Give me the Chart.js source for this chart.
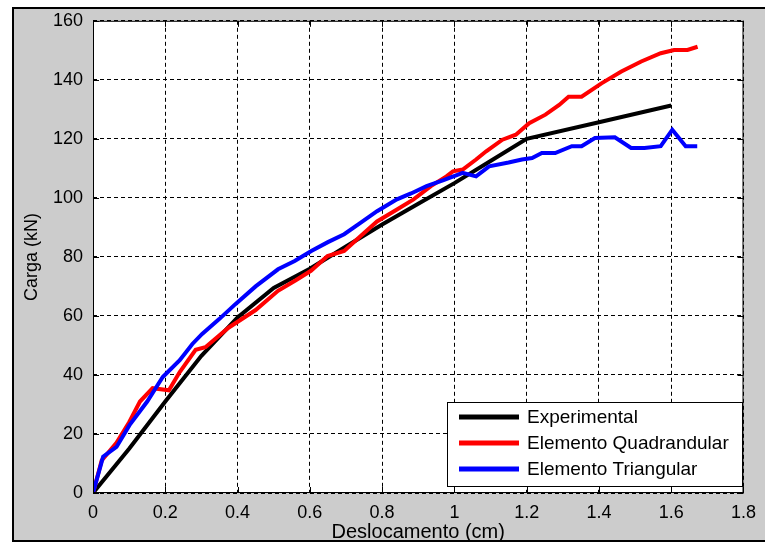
<!DOCTYPE html>
<html>
<head>
<meta charset="utf-8">
<script src="https://cdn.jsdelivr.net/npm/chart.js@4.4.1/dist/chart.umd.min.js"></script>
<style>
  html, body { margin: 0; padding: 0; background: #fff; }
  #wrap { width: 765px; height: 544px; }
</style>
</head>
<body>
<div id="wrap"><canvas id="cargaChart"></canvas></div>
<script>
// load vs displacement curves
const seriesNames = ['Experimental', 'Elemento Quadrandular', 'Elemento Triangular'];
const seriesColors = ['#000000', '#ff0000', '#0000ff'];

const expX = [0, 0.1, 0.2, 0.3, 0.4, 0.5, 0.6, 0.7, 0.8, 0.9, 1.0, 1.1, 1.2, 1.4, 1.6];
const expY = [0, 15, 31, 46.5, 59.5, 69.5, 76, 83.5, 91, 98, 105, 112.5, 120, 125.6, 131.3];

const quadX = [0, 0.024, 0.065, 0.1, 0.13, 0.165, 0.21, 0.24, 0.284, 0.311, 0.375, 0.45, 0.512, 0.56,
  0.603, 0.649, 0.695, 0.74, 0.786, 0.84, 0.887, 0.935, 0.978, 0.996, 1.023, 1.06, 1.088, 1.133,
  1.17, 1.207, 1.252, 1.29, 1.316, 1.352, 1.407, 1.462, 1.517, 1.571, 1.608, 1.645, 1.673];
const quadY = [0, 11, 17, 24, 31, 35.5, 34.8, 41, 48.5, 49.4, 56, 62, 68.5, 72,
  75.3, 80.3, 82, 87, 92, 96, 99.5, 104, 107.3, 109, 109.6, 113, 115.8, 119.7,
  121.4, 125.3, 128.2, 131.5, 134.3, 134.3, 138.8, 142.8, 146.2, 149, 150.1, 150.1, 151.2];

const triX = [0, 0.028, 0.065, 0.101, 0.15, 0.193, 0.24, 0.275, 0.302, 0.35, 0.394, 0.45, 0.512, 0.558,
  0.604, 0.65, 0.695, 0.74, 0.786, 0.841, 0.88, 0.923, 0.97, 1.023, 1.06, 1.096, 1.15, 1.187,
  1.215, 1.242, 1.279, 1.325, 1.352, 1.389, 1.444, 1.489, 1.526, 1.571, 1.603, 1.64, 1.672];
const triY = [0, 12.3, 15.6, 23, 31, 39.3, 45, 50.5, 53.9, 59, 64, 70, 75.8, 78.6,
  82, 85, 87.7, 91.5, 95.5, 99.5, 101.5, 104, 106, 108.5, 107.3, 110.7, 112, 113,
  113.5, 115.2, 115.2, 117.5, 117.5, 120.3, 120.5, 116.9, 116.9, 117.5, 123.1, 117.5, 117.5];

const xTicks = [0, 0.2, 0.4, 0.6, 0.8, 1, 1.2, 1.4, 1.6, 1.8];
const yTicks = [0, 20, 40, 60, 80, 100, 120, 140, 160];

const toPoints = (xs, ys) => xs.map((x, i) => ({ x: x, y: ys[i] }));

const font = 'Arial, "Liberation Sans", sans-serif';

// gray figure panel, white axes, box, inward ticks and legend
const matlabFrame = {
  id: 'matlabFrame',
  beforeDraw(chart) {
    const { ctx, chartArea: a } = chart;
    ctx.save();
    ctx.fillStyle = '#ffffff';
    ctx.fillRect(0, 0, chart.width, chart.height);
    ctx.fillStyle = '#cccccc';
    ctx.fillRect(13, 8, chart.width - 13, 533);
    ctx.strokeStyle = '#000';
    ctx.lineWidth = 2;
    ctx.beginPath();
    ctx.moveTo(chart.width + 2, 8);
    ctx.lineTo(13, 8);
    ctx.lineTo(13, 541);
    ctx.lineTo(chart.width + 2, 541);
    ctx.stroke();
    ctx.fillStyle = '#ffffff';
    ctx.fillRect(a.left, a.top, a.right - a.left, a.bottom - a.top);
    ctx.restore();
  },
  afterDraw(chart) {
    const { ctx, chartArea: a, scales } = chart;
    ctx.save();
    ctx.strokeStyle = '#000';
    ctx.lineWidth = 1;
    ctx.setLineDash([]);
    ctx.strokeRect(a.left + 0.5, a.top + 0.5, a.right - a.left - 1, a.bottom - a.top - 1);
    ctx.beginPath();
    xTicks.forEach(v => {
      const px = Math.round(scales.x.getPixelForValue(v)) + 0.5;
      ctx.moveTo(px, a.bottom); ctx.lineTo(px, a.bottom - 6);
      ctx.moveTo(px, a.top); ctx.lineTo(px, a.top + 6);
    });
    yTicks.forEach(v => {
      const py = Math.round(scales.y.getPixelForValue(v)) + 0.5;
      ctx.moveTo(a.left, py); ctx.lineTo(a.left + 6, py);
      ctx.moveTo(a.right, py); ctx.lineTo(a.right - 6, py);
    });
    ctx.stroke();

    // legend box, lower right
    const lx = 447, ly = 402, lw = 295, lh = 84;
    ctx.fillStyle = '#ffffff';
    ctx.fillRect(lx, ly, lw, lh);
    ctx.strokeRect(lx + 0.5, ly + 0.5, lw, lh);
    ctx.font = '19px ' + font;
    ctx.textBaseline = 'middle';
    ctx.textAlign = 'left';
    chart.data.datasets.forEach((ds, i) => {
      const ry = ly + 15 + i * 26;
      ctx.strokeStyle = ds.borderColor;
      ctx.lineWidth = 5;
      ctx.beginPath();
      ctx.moveTo(lx + 12, ry); ctx.lineTo(lx + 72, ry);
      ctx.stroke();
      ctx.fillStyle = '#000';
      ctx.fillText(ds.label, lx + 80, ry + 1);
    });
    ctx.restore();
  }
};

const lineSet = (i, xs, ys, order) => ({
  label: seriesNames[i],
  data: toPoints(xs, ys),
  borderColor: seriesColors[i],
  backgroundColor: seriesColors[i],
  borderWidth: 4,
  pointRadius: 0,
  tension: 0,
  showLine: true,
  order: order
});

new Chart(document.getElementById('cargaChart'), {
  type: 'scatter',
  data: {
    datasets: [
      lineSet(0, expX, expY, 3),
      lineSet(1, quadX, quadY, 2),
      lineSet(2, triX, triY, 1)
    ]
  },
  options: {
    responsive: true,
    maintainAspectRatio: false,
    animation: false,
    layout: { padding: { left: 0, top: 19, right: 14, bottom: 0 } },
    plugins: { legend: { display: false }, tooltip: { enabled: false } },
    scales: {
      x: {
        type: 'linear',
        min: 0, max: 1.8,
        afterFit: s => { s.height = 51; },
        afterBuildTicks: s => { s.ticks = xTicks.map(v => ({ value: v })); },
        ticks: {
          color: '#000',
          font: { family: font, size: 18 },
          padding: 9,
          maxRotation: 0,
          callback: v => String(v)
        },
        grid: { color: '#000', lineWidth: 1, drawTicks: false, borderDash: [4, 3] },
        border: { display: false, dash: [4, 3] },
        title: {
          display: true,
          text: 'Deslocamento (cm)',
          color: '#000',
          font: { family: font, size: 20 },
          padding: { top: 0, bottom: 0 }
        }
      },
      y: {
        min: 0, max: 160,
        afterFit: s => { s.width = 93; },
        afterBuildTicks: s => { s.ticks = yTicks.map(v => ({ value: v })); },
        ticks: {
          color: '#000',
          font: { family: font, size: 18 },
          padding: 10
        },
        grid: { color: '#000', lineWidth: 1, drawTicks: false, borderDash: [4, 3] },
        border: { display: false, dash: [4, 3] },
        title: {
          display: true,
          text: 'Carga (kN)',
          color: '#000',
          font: { family: font, size: 18 },
          padding: { top: 21, bottom: 0 }
        }
      }
    }
  },
  plugins: [matlabFrame]
});
</script>
</body>
</html>
